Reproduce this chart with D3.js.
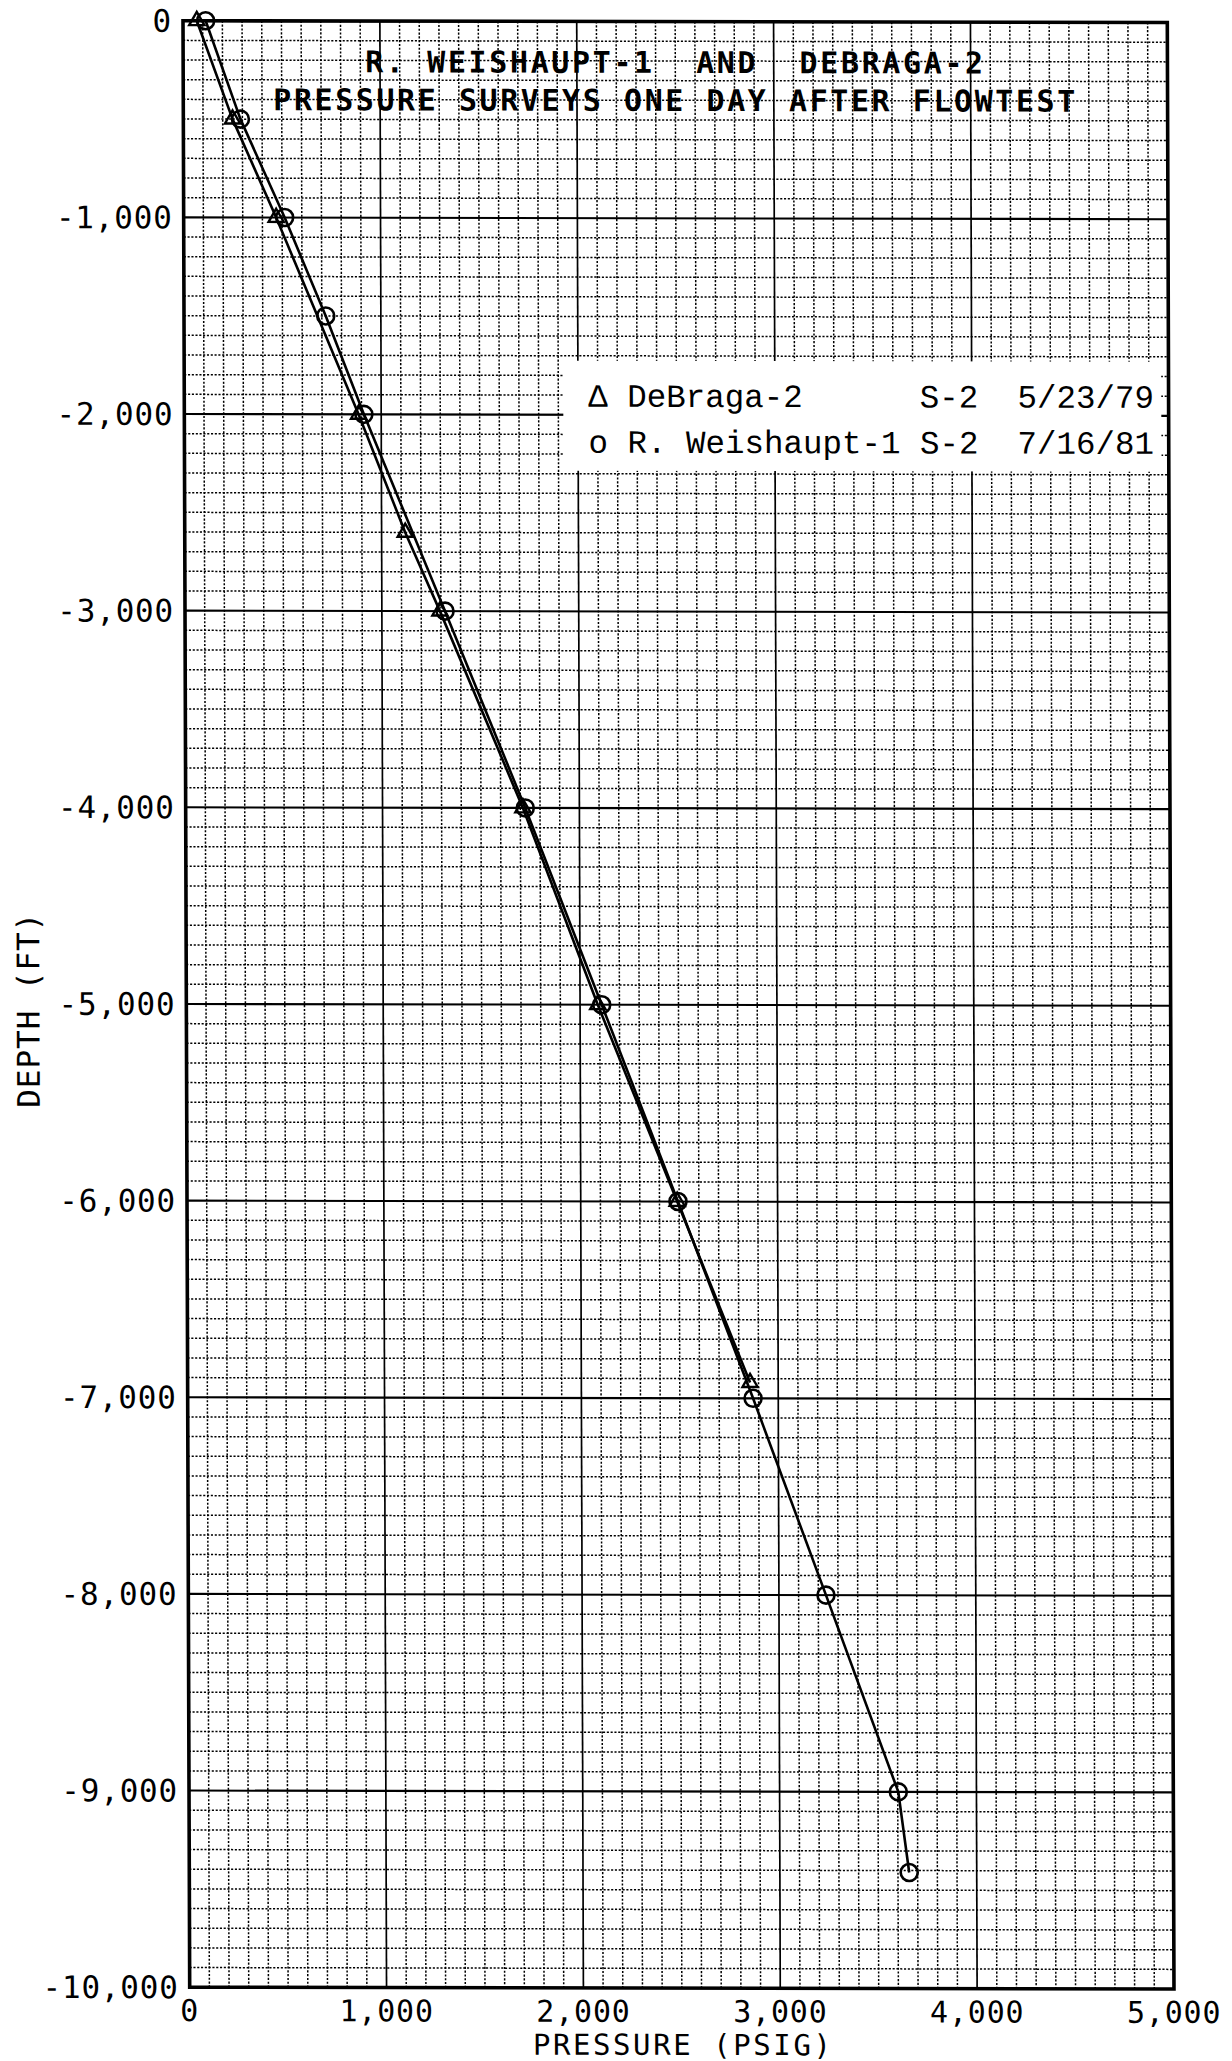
<!DOCTYPE html>
<html>
<head>
<meta charset="utf-8">
<script src="https://cdn.jsdelivr.net/npm/d3@7"></script>
<style>
  html, body { margin: 0; padding: 0; background: #fff; }
  svg { display: block; }
</style>
</head>
<body>
<svg id="chart" width="1232" height="2061"></svg>
<script>
// DeBraga-2 pressure survey (S-2, 5/23/79): pressure in psig, depth in ft
const debragaPressure = [70, 250, 470, 885, 1120, 1295, 1713, 2090, 2490, 2857];
const debragaDepth    = [0, -500, -1000, -2000, -2600, -3000, -4000, -5000, -6000, -6920];

// R. Weishaupt-1 pressure survey (S-2, 7/16/81)
const weishauptPressure = [115, 290, 513, 720, 912, 1321, 1725, 2110, 2494, 2872, 3239, 3603, 3657];
const weishauptDepth    = [0, -500, -1000, -1500, -2000, -3000, -4000, -5000, -6000, -7000, -8000, -9000, -9410];

// Axis ticks and labels
const xTicks = [0, 1000, 2000, 3000, 4000, 5000];
const yTicks = [0, -1000, -2000, -3000, -4000, -5000, -6000, -7000, -8000, -9000, -10000];
const xTitle = "PRESSURE (PSIG)";
const yTitle = "DEPTH (FT)";
const titleLines = ["R. WEISHAUPT-1  AND  DEBRAGA-2", "PRESSURE SURVEYS ONE DAY AFTER FLOWTEST"];
const legendLines = ["\u0394 DeBraga-2      S-2  5/23/79", "o R. Weishaupt-1 S-2  7/16/81"];

const plot = { left: 183, right: 1167.3, top: 20.7, bottom: 1987.2 };

// the plotted sheet sits very slightly askew on the page
const root = d3.select("#chart").append("g")
  .attr("transform", `translate(${plot.left},${plot.top}) matrix(1,0.00188,0.0034,1,0,0) translate(${-plot.left},${-plot.top})`);

const x = d3.scaleLinear().domain([0, 5000]).range([plot.left, plot.right]);
const y = d3.scaleLinear().domain([0, -10000]).range([plot.top, plot.bottom]);

const plotterFont = "'DejaVu Sans Mono', monospace";
const typeFont = "'Liberation Mono', 'Courier New', monospace";

// ---- grid: dotted every 100, solid every 1000 ----
const grid = root.append("g");
const minorX = d3.range(100, 5000, 100).filter(v => v % 1000 !== 0);
const minorY = d3.range(-100, -10000, -100).filter(v => v % 1000 !== 0);

grid.selectAll(".mx").data(minorX).join("line")
  .attr("x1", d => x(d)).attr("x2", d => x(d))
  .attr("y1", plot.top).attr("y2", plot.bottom)
  .attr("stroke", "#000").attr("stroke-width", 1.5)
  .attr("stroke-dasharray", "2.1,1.7");

grid.selectAll(".my").data(minorY).join("line")
  .attr("y1", d => y(d)).attr("y2", d => y(d))
  .attr("x1", plot.left).attr("x2", plot.right)
  .attr("stroke", "#000").attr("stroke-width", 1.5)
  .attr("stroke-dasharray", "2.1,1.7");

grid.selectAll(".Mx").data(xTicks.slice(1, -1)).join("line")
  .attr("x1", d => x(d)).attr("x2", d => x(d))
  .attr("y1", plot.top).attr("y2", plot.bottom)
  .attr("stroke", "#000").attr("stroke-width", 1.7);

grid.selectAll(".My").data(yTicks.slice(1, -1)).join("line")
  .attr("y1", d => y(d)).attr("y2", d => y(d))
  .attr("x1", plot.left).attr("x2", plot.right)
  .attr("stroke", "#000").attr("stroke-width", 2.1);

// ---- legend panel (white block over the grid) ----
root.append("rect")
  .attr("x", 562).attr("y", 360)
  .attr("width", 598).attr("height", 110)
  .attr("fill", "#fff");

root.append("g").selectAll("text").data(legendLines).join("text")
  .attr("x", 587)
  .attr("y", (d, i) => 406 + i * 46)
  .attr("font-family", typeFont)
  .attr("font-size", 32.5)
  .attr("fill", "#000")
  .style("white-space", "pre")
  .text(d => d);

// ---- survey lines ----
const line = d3.line().x(d => x(d[0])).y(d => y(d[1]));
const debraga = d3.zip(debragaPressure, debragaDepth);
const weishaupt = d3.zip(weishauptPressure, weishauptDepth);

root.append("path").datum(debraga)
  .attr("d", line).attr("fill", "none")
  .attr("stroke", "#000").attr("stroke-width", 2.6)
  .attr("stroke-linejoin", "round");

root.append("path").datum(weishaupt)
  .attr("d", line).attr("fill", "none")
  .attr("stroke", "#000").attr("stroke-width", 2.6)
  .attr("stroke-linejoin", "round");

// ---- markers ----
const tri = d3.symbol(d3.symbolTriangle, 100);
root.append("g").selectAll("path").data(debraga).join("path")
  .attr("transform", d => `translate(${x(d[0])},${y(d[1])})`)
  .attr("d", tri)
  .attr("fill", "none").attr("stroke", "#000").attr("stroke-width", 2.4);

root.append("g").selectAll("circle").data(weishaupt).join("circle")
  .attr("cx", d => x(d[0])).attr("cy", d => y(d[1]))
  .attr("r", 8.5)
  .attr("fill", "none").attr("stroke", "#000").attr("stroke-width", 2.6);

// ---- frame ----
root.append("rect")
  .attr("x", plot.left).attr("y", plot.top)
  .attr("width", plot.right - plot.left).attr("height", plot.bottom - plot.top)
  .attr("fill", "none").attr("stroke", "#000").attr("stroke-width", 3.6);

// ---- title ----
const titleStarts = [365, 273];
const titleWidths = [618, 802];
root.append("g").selectAll("text").data(titleLines).join("text")
  .attr("x", (d, i) => titleStarts[i])
  .attr("y", (d, i) => 72 + i * 38)
  .attr("font-family", plotterFont)
  .attr("font-size", 30)
  .attr("font-weight", "bold")
  .attr("textLength", (d, i) => titleWidths[i])
  .attr("lengthAdjust", "spacing")
  .style("white-space", "pre")
  .attr("fill", "#000")
  .text(d => d);

// ---- axis labels ----
const fmt = d3.format(",");
root.append("g").selectAll("text").data(yTicks).join("text")
  .attr("x", plot.left - 11)
  .attr("y", d => y(d) + 11)
  .attr("text-anchor", "end")
  .attr("font-family", plotterFont)
  .attr("font-size", 31)
  .attr("letter-spacing", 0.8)
  .attr("fill", "#000")
  .text(d => fmt(d).replace("\u2212", "-"));

root.append("g").selectAll("text").data(xTicks).join("text")
  .attr("x", d => x(d))
  .attr("y", 2021)
  .attr("text-anchor", "middle")
  .attr("font-family", plotterFont)
  .attr("font-size", 30)
  .attr("letter-spacing", 0.8)
  .attr("fill", "#000")
  .text(d => fmt(d));

root.append("text")
  .attr("x", 526).attr("y", 2054)
  .attr("font-family", plotterFont)
  .attr("font-size", 29)
  .attr("textLength", 298).attr("lengthAdjust", "spacing")
  .style("white-space", "pre")
  .attr("fill", "#000")
  .text(xTitle);

root.append("text")
  .attr("transform", "translate(36,1108) rotate(-90)")
  .attr("font-family", plotterFont)
  .attr("font-size", 31)
  .attr("textLength", 195).attr("lengthAdjust", "spacing")
  .style("white-space", "pre")
  .attr("fill", "#000")
  .text(yTitle);
</script>
</body>
</html>
